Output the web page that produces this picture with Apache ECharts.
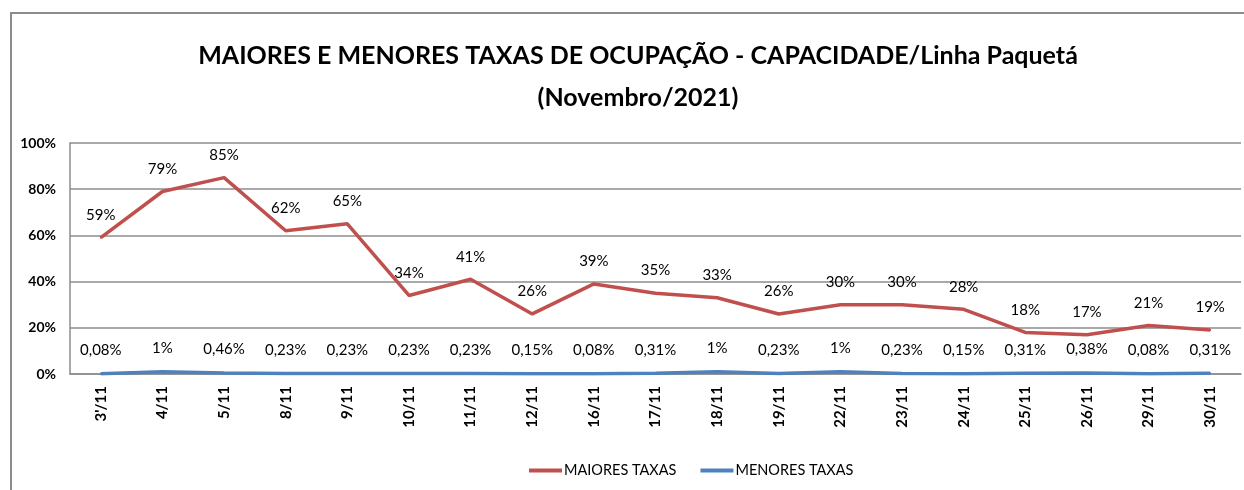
<!DOCTYPE html>
<html>
<head>
<meta charset="utf-8">
<script src="https://cdn.jsdelivr.net/npm/echarts@6/dist/echarts.min.js"></script>
<style>
  html, body { margin: 0; padding: 0; background: #fff; overflow: hidden; }
  #frame { position: absolute; left: 10px; top: 12px; width: 1260px; height: 500px; border: 2px solid #8c8c8c; box-sizing: border-box; }
  #chart { position: absolute; left: 0; top: 0; width: 1244px; height: 490px; }
</style>
</head>
<body>
<div id="frame"></div>
<div id="chart"></div>
<script>
// categorias (dias de novembro)
var dias = ["3'/11", '4/11', '5/11', '8/11', '9/11', '10/11', '11/11', '12/11', '16/11', '17/11',
            '18/11', '19/11', '22/11', '23/11', '24/11', '25/11', '26/11', '29/11', '30/11'];

// valores em %
var maiores = [59, 79, 85, 62, 65, 34, 41, 26, 39, 35, 33, 26, 30, 30, 28, 18, 17, 21, 19];
var menores = [0.08, 1, 0.46, 0.23, 0.23, 0.23, 0.23, 0.15, 0.08, 0.31, 1, 0.23, 1, 0.23, 0.15, 0.31, 0.38, 0.08, 0.31];

var yTicks = [0, 20, 40, 60, 80, 100];

var fonte = 'Lato, "Open Sans", sans-serif';

function fmtPct(v) {
  return String(v).replace('.', ',') + '%';
}

var myChart = echarts.init(document.getElementById('chart'), null, { renderer: 'canvas' });

var option = {
  backgroundColor: 'transparent',
  animation: false,
  title: {
    text: 'MAIORES E MENORES TAXAS DE OCUPAÇÃO - CAPACIDADE/Linha Paquetá\n(Novembro/2021)',
    left: 633,
    top: 30,
    textAlign: 'center',
    textStyle: {
      fontFamily: fonte,
      fontSize: 25,
      fontWeight: 'bold',
      color: '#000',
      lineHeight: 42
    }
  },
  legend: {
    data: [
      { name: 'MAIORES TAXAS', itemStyle: { color: '#c0504d' } },
      { name: 'MENORES TAXAS', itemStyle: { color: '#4f81bd' } }
    ],
    left: 524,
    top: 458,
    icon: 'rect',
    itemWidth: 33,
    itemHeight: 4,
    itemGap: 24,
    textStyle: {
      fontFamily: fonte,
      fontSize: 14.5,
      color: '#000',
      padding: [0, 0, 0, -3]
    }
  },
  grid: {
    left: 70,
    right: 3,
    top: 143,
    bottom: 116,
    containLabel: false
  },
  xAxis: {
    type: 'category',
    data: dias,
    boundaryGap: true,
    axisLine: { lineStyle: { color: '#8c8c8c', width: 1.5 } },
    axisTick: { show: false },
    axisLabel: {
      rotate: 90,
      interval: 0,
      margin: 12,
      fontFamily: fonte,
      fontWeight: 'bold',
      fontSize: 15,
      color: '#000'
    }
  },
  yAxis: {
    type: 'value',
    min: 0,
    max: 100,
    interval: 20,
    axisLine: { show: true, lineStyle: { color: '#8c8c8c', width: 1.5 } },
    axisTick: { show: false },
    splitLine: { lineStyle: { color: '#8c8c8c', width: 1.5 } },
    axisLabel: {
      margin: 14,
      fontFamily: fonte,
      fontWeight: 'bold',
      fontSize: 14,
      color: '#000',
      formatter: function (v) {
        return yTicks.indexOf(v) >= 0 ? v + '%' : '';
      }
    }
  },
  series: [{
    name: 'MAIORES TAXAS',
    type: 'line',
    data: maiores,
    showSymbol: true,
    symbol: 'circle',
    symbolSize: 2,
    itemStyle: { color: '#c0504d' },
    lineStyle: { color: '#c0504d', width: 3.5 },
    label: {
      show: true,
      position: 'top',
      distance: 14,
      fontFamily: fonte,
      fontSize: 15,
      color: '#000',
      formatter: function (p) { return fmtPct(p.value); }
    },
    z: 3
  }, {
    name: 'MENORES TAXAS',
    type: 'line',
    data: menores,
    showSymbol: true,
    symbol: 'circle',
    symbolSize: 2,
    itemStyle: { color: '#4f81bd' },
    lineStyle: { color: '#4f81bd', width: 3.5 },
    label: {
      show: true,
      position: 'top',
      distance: 15,
      fontFamily: fonte,
      fontSize: 15,
      color: '#000',
      formatter: function (p) { return fmtPct(p.value); }
    },
    z: 3
  }]
};

myChart.setOption(option);
</script>
</body>
</html>
